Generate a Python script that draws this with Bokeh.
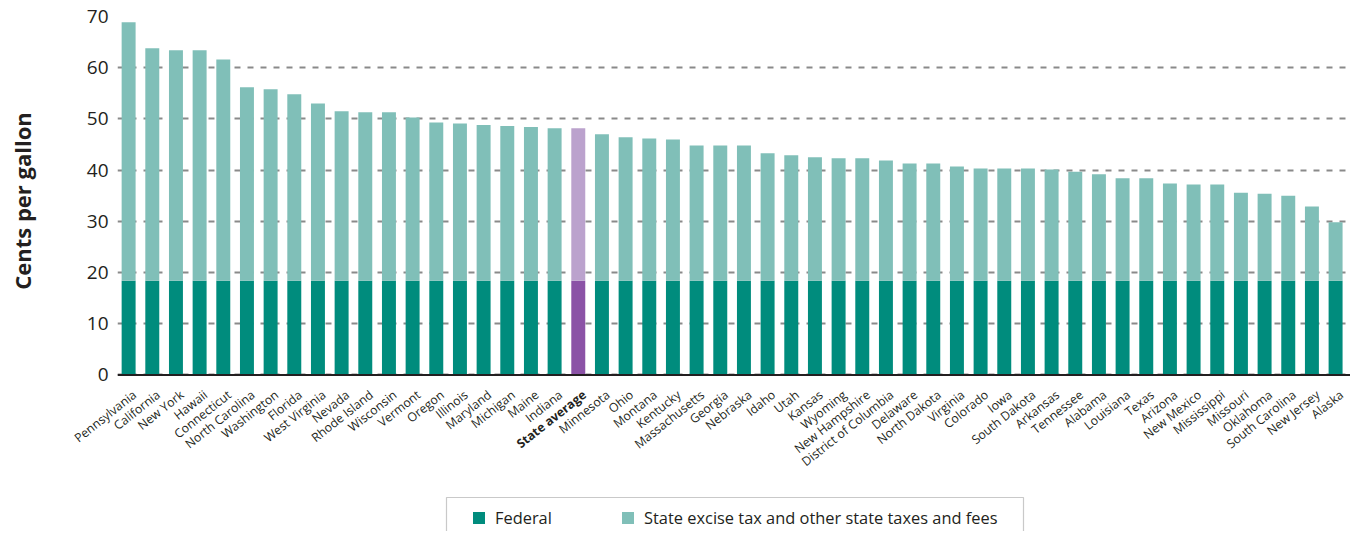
from bokeh.plotting import figure
from bokeh.layouts import column
from bokeh.models import (ColumnDataSource, FixedTicker, Legend, LegendItem, Range1d, Span,
                          BoxAnnotation)
from bokeh.core.properties import value
from bokeh.transform import stack
from bokeh.embed import file_html
from bokeh.resources import INLINE

states = ["Pennsylvania", "California", "New York", "Hawaii", "Connecticut", "North Carolina",
          "Washington", "Florida", "West Virginia", "Nevada", "Rhode Island", "Wisconsin",
          "Vermont", "Oregon", "Illinois", "Maryland", "Michigan", "Maine", "Indiana",
          "State average", "Minnesota", "Ohio", "Montana", "Kentucky", "Massachusetts",
          "Georgia", "Nebraska", "Idaho", "Utah", "Kansas", "Wyoming", "New Hampshire",
          "District of Columbia", "Delaware", "North Dakota", "Virginia", "Colorado", "Iowa",
          "South Dakota", "Arkansas", "Tennessee", "Alabama", "Louisiana", "Texas", "Arizona",
          "New Mexico", "Mississippi", "Missouri", "Oklahoma", "South Carolina", "New Jersey",
          "Alaska"]

federal = [18.4] * 52

state_tax = [50.5, 45.4, 45.0, 45.0, 43.2, 37.8,
             37.4, 36.4, 34.6, 33.1, 32.9, 32.9,
             31.9, 30.9, 30.7, 30.4, 30.2, 30.0, 29.8,
             29.8, 28.6, 28.0, 27.8, 27.6, 26.4,
             26.4, 26.4, 24.9, 24.5, 24.1, 23.9, 23.9,
             23.5, 22.9, 22.9, 22.3, 21.9, 21.9,
             21.9, 21.7, 21.3, 20.8, 20.0, 20.0, 19.0,
             18.8, 18.8, 17.2, 17.0, 16.6, 14.5,
             11.4]

y_ticks = [0, 10, 20, 30, 40, 50, 60, 70]

FED = "#008c7d"
STATE = "#80bfb8"
AVG_FED = "#8b52a6"
AVG_STATE = "#bba2cd"
FONT = "Open Sans"
TXT = "#231f20"

x = list(range(len(states)))
fed_colors = [AVG_FED if s == "State average" else FED for s in states]
state_colors = [AVG_STATE if s == "State average" else STATE for s in states]
styles = ["bold" if s == "State average" else "normal" for s in states]

src = ColumnDataSource(dict(x=x, name=states, fed=federal, st=state_tax,
                            fc=fed_colors, sc=state_colors, style=styles))

# ---- geometry (pixels) ----
W = 1350
LEFT = 117
TOP = 16
H_MAIN = 385
H_LOW = 146
UNIT = 360 / 70.3                      # pixels per cent
ZERO_PX = TOP + 70 * UNIT              # pixel row of the zero line
Y_START = -(H_MAIN - ZERO_PX) / UNIT
LABEL_DROP = 18                        # label anchor, pixels below the zero line
X0, X1 = -0.47, 51.63
per_px = (X1 - X0) / (W - LEFT)
QX0 = X0 - LEFT * per_px


def px_to_x(px):
    return QX0 + px * per_px


# ---- main chart ----
p = figure(width=W, height=H_MAIN, output_backend="svg", toolbar_location=None,
           x_range=Range1d(X0, X1), y_range=Range1d(Y_START, 70), x_axis_location=None,
           min_border_left=LEFT, min_border_right=0, min_border_top=TOP, min_border_bottom=0)
p.frame_align = False
p.outline_line_color = None
p.background_fill_color = "white"

p.vbar(x="x", width=0.59, bottom=0, top="fed", fill_color="fc", line_color=None, source=src)
p.vbar(x="x", width=0.59, bottom="fed", top=stack("fed", "st"), fill_color="sc",
       line_color=None, source=src)

p.xgrid.visible = False
p.ygrid.ticker = FixedTicker(ticks=y_ticks)
p.ygrid.grid_line_color = "#8a8a8a"
p.ygrid.grid_line_width = 1.8
p.ygrid.grid_line_dash = "6 7"

p.yaxis.ticker = FixedTicker(ticks=y_ticks)
p.yaxis.axis_line_color = None
p.yaxis.major_tick_line_color = None
p.yaxis.major_tick_out = 0
p.yaxis.major_tick_in = 0
p.yaxis.minor_tick_line_color = None
p.yaxis.major_label_text_font = FONT
p.yaxis.major_label_text_font_size = "19px"
p.yaxis.major_label_text_color = TXT
p.yaxis.major_label_standoff = 9
p.yaxis.axis_label = "Cents per gallon"
p.yaxis.axis_label_text_font = FONT
p.yaxis.axis_label_text_font_size = "22px"
p.yaxis.axis_label_text_font_style = "bold"
p.yaxis.axis_label_text_color = TXT
p.yaxis.axis_label_standoff = 47

p.add_layout(Span(location=0, dimension="width", line_color=TXT, line_width=2))

# ---- label + legend strip (full width, same horizontal scale) ----
q = figure(width=W, height=H_LOW, output_backend="svg", toolbar_location=None,
           x_range=Range1d(QX0, X1), y_range=Range1d(0, H_LOW), x_axis_location=None,
           y_axis_location=None,
           min_border_left=0, min_border_right=0, min_border_top=0, min_border_bottom=0)
q.frame_align = False
q.outline_line_color = None
q.background_fill_color = "white"
q.grid.visible = False

q.text(x="x", y=H_LOW - (ZERO_PX + LABEL_DROP - H_MAIN), text="name", source=src,
       angle=0.67, x_offset=6, text_align="right", text_baseline="middle",
       text_font=value(FONT), text_font_size=value("12.3px"), text_color=TXT,
       text_font_style="style")

q.add_layout(BoxAnnotation(left=px_to_x(446), right=px_to_x(1023), top=34, bottom=-20,
                           fill_color=None, fill_alpha=0, line_color="#4d4d4d",
                           line_width=1.2))

# zero-height bars, only used to give the legend its swatches
g_fed = q.vbar(x="x", width=0.59, bottom=0, top=0, source=src, fill_color=FED, line_color=None)
g_st = q.vbar(x="x", width=0.59, bottom=0, top=0, source=src, fill_color=STATE, line_color=None)

legend = Legend(items=[LegendItem(label="Federal", renderers=[g_fed]),
                       LegendItem(label="State excise tax and other state taxes and fees",
                                  renderers=[g_st])],
                orientation="horizontal", location=(471, 2),
                glyph_width=15, glyph_height=15, label_standoff=9, spacing=0,
                padding=14, margin=0, label_width=125,
                label_text_font=FONT, label_text_font_size="16.4px", label_text_color=TXT,
                border_line_color=None, background_fill_alpha=0)
q.add_layout(legend, "center")

layout = column(p, q, spacing=0)
open("out.html", "w").write(file_html(layout, INLINE))
